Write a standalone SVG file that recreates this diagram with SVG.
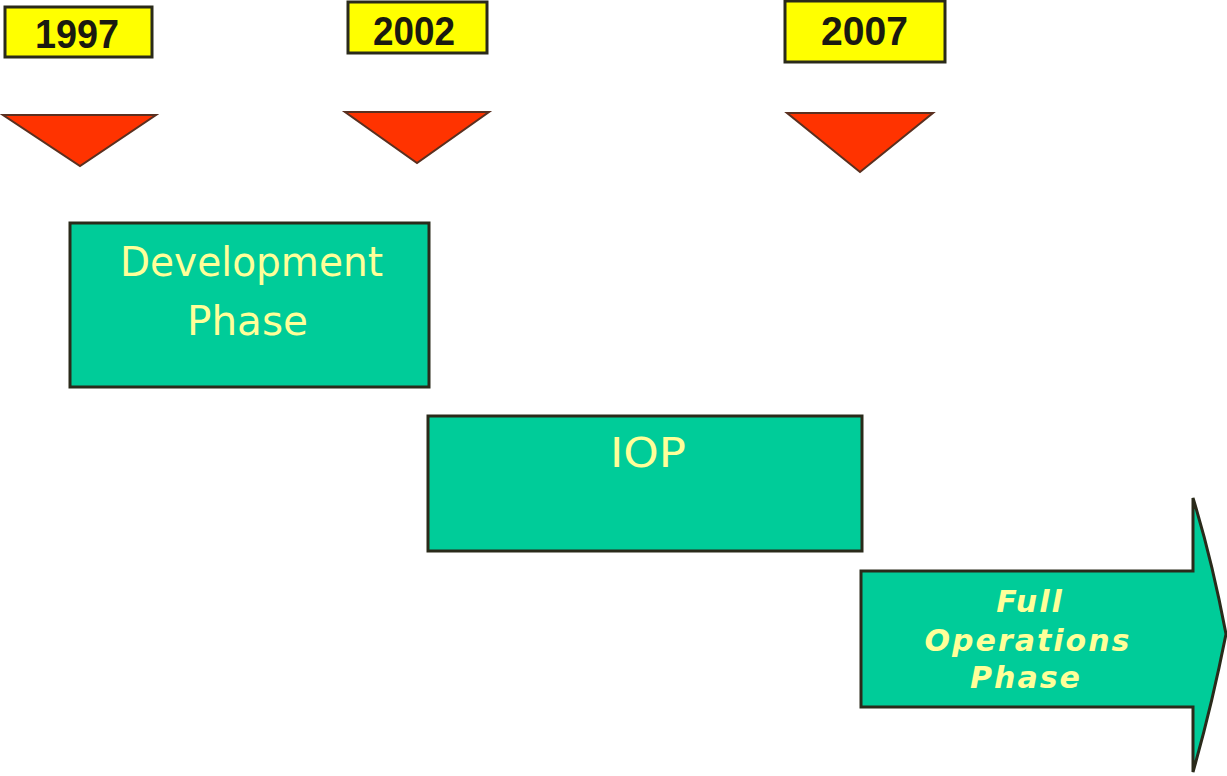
<svg xmlns="http://www.w3.org/2000/svg" width="1227" height="776" viewBox="0 0 1227 776">
  <style>
    .year { fill: #ffff00; stroke: #2a2a1a; stroke-width: 3; }
    .year-text { font-family: "Liberation Sans", Arial, sans-serif; font-weight: bold; font-size: 40px; fill: #1a1a10; }
    .marker { fill: #ff3300; stroke: #5a3020; stroke-width: 2; stroke-linejoin: miter; }
    .phase { fill: #00cc99; stroke: #2a2a1a; stroke-width: 3; }
    .phase-text { font-family: "DejaVu Sans", "Noto Sans", sans-serif; font-size: 40px; fill: #ffff99; }
    .fop-text { font-family: "DejaVu Sans", "Noto Sans", sans-serif; font-weight: bold; font-style: italic; font-size: 30px; fill: #ffff99; text-anchor: middle; letter-spacing: 2px; }
  </style>

  <!-- Year labels -->
  <g id="year-1997">
    <rect class="year" x="5" y="7" width="147" height="50"/>
    <text class="year-text" x="35" y="48" textLength="84" lengthAdjust="spacingAndGlyphs">1997</text>
  </g>
  <g id="year-2002">
    <rect class="year" x="348" y="2" width="139" height="51"/>
    <text class="year-text" x="373" y="45" textLength="82" lengthAdjust="spacingAndGlyphs">2002</text>
  </g>
  <g id="year-2007">
    <rect class="year" x="785" y="1" width="160" height="61"/>
    <text class="year-text" x="821" y="45" textLength="87" lengthAdjust="spacingAndGlyphs">2007</text>
  </g>

  <!-- Downward milestone markers -->
  <g id="marker-1997">
    <polygon class="marker" points="3,115 156,115 80,166"/>
  </g>
  <g id="marker-2002">
    <polygon class="marker" points="345,112 489,112 417,163"/>
  </g>
  <g id="marker-2007">
    <polygon class="marker" points="787,113 933,113 860,172"/>
  </g>

  <!-- Phase blocks -->
  <g id="development-phase">
    <rect class="phase" x="70" y="223" width="359" height="164"/>
    <text class="phase-text" x="120" y="276" textLength="263" lengthAdjust="spacingAndGlyphs">Development</text>
    <text class="phase-text" x="187" y="335" textLength="121" lengthAdjust="spacingAndGlyphs">Phase</text>
  </g>
  <g id="iop">
    <rect class="phase" x="428" y="416" width="434" height="135"/>
    <text class="phase-text" x="610" y="467" textLength="76" lengthAdjust="spacingAndGlyphs">IOP</text>
  </g>
  <g id="full-operations-phase">
    <path class="phase" d="M861,571 L1193,571 L1193,498 Q1212,560 1226,634 Q1212,705 1193,772 L1193,707 L861,707 Z"/>
    <text class="fop-text" x="1030" y="612">Full</text>
    <text class="fop-text" x="1028" y="651">Operations</text>
    <text class="fop-text" x="1026" y="688">Phase</text>
  </g>

  <!-- Connectors (none drawn: phases abut directly) -->
  <g id="connectors"/>
</svg>
